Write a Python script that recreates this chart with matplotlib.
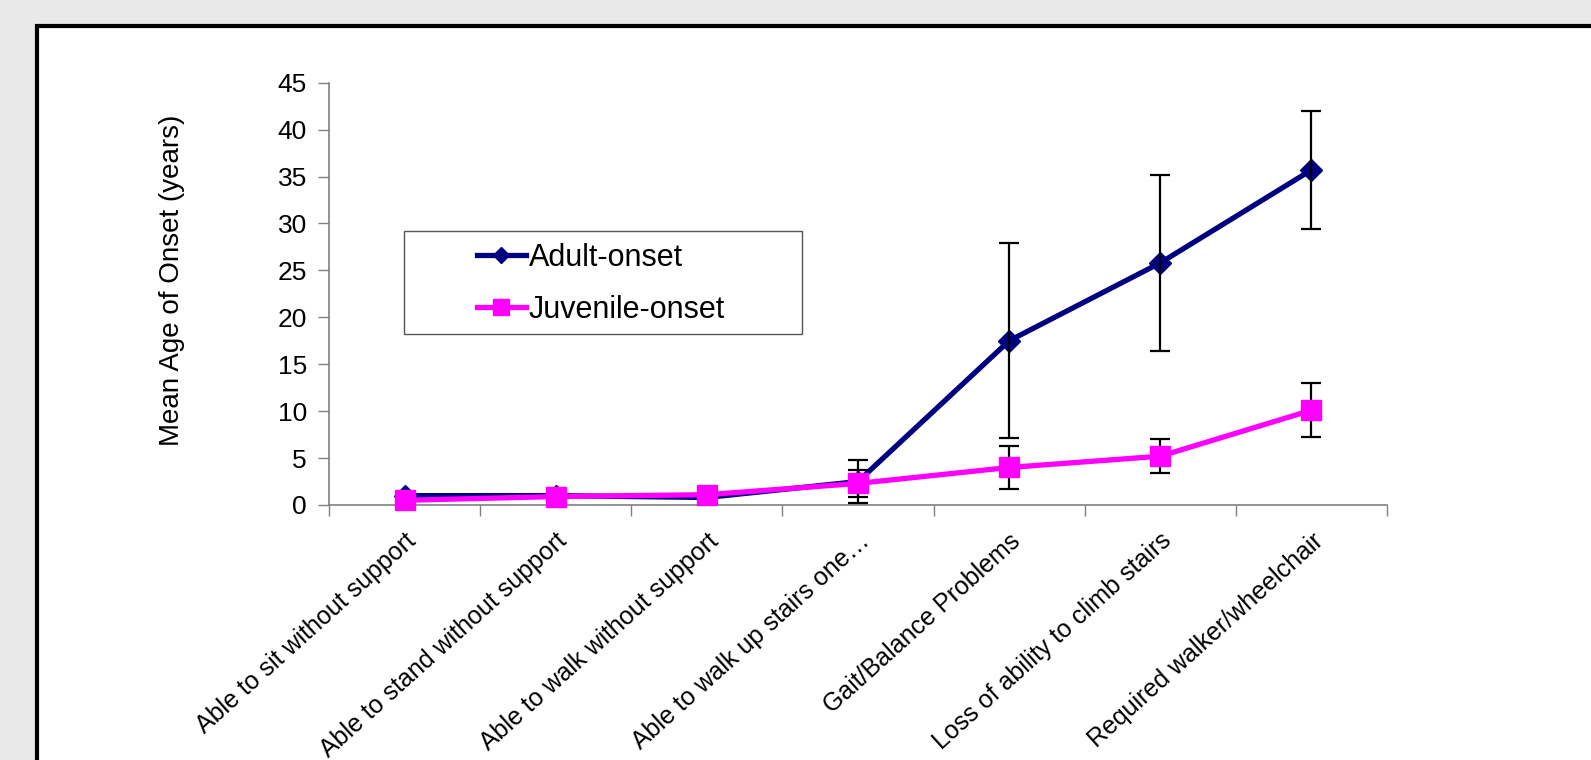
import matplotlib
matplotlib.use("Agg")
import matplotlib.pyplot as plt
from matplotlib.patches import Rectangle
from matplotlib.lines import Line2D

plt.rcParams['font.family'] = ['Liberation Sans', 'DejaVu Sans']

# milestones on the x axis
categories = [
    "Able to sit without support",
    "Able to stand without support",
    "Able to walk without support",
    "Able to walk up stairs one\u2026",
    "Gait/Balance Problems",
    "Loss of ability to climb stairs",
    "Required walker/wheelchair",
]

# mean age of onset (years)
adult_mean = [1.0, 1.0, 0.8, 2.5, 17.5, 25.8, 35.7]
adult_err = [0.0, 0.0, 0.0, 2.3, 10.4, 9.4, 6.3]
juvenile_mean = [0.5, 0.9, 1.1, 2.3, 4.0, 5.2, 10.1]
juvenile_err = [0.0, 0.0, 0.0, 1.45, 2.3, 1.8, 2.9]

y_ticks = [0, 5, 10, 15, 20, 25, 30, 35, 40, 45]

W, H = 1591, 760
fig = plt.figure(figsize=(W / 100, H / 100), dpi=100)
fig.patch.set_facecolor('#e9e9e9')

# white panel with a heavy black frame, running off the right and bottom
fig.add_artist(Rectangle((37 / W, -0.2), 1.2, 1.2 - 26 / H, transform=fig.transFigure,
                         facecolor='white', edgecolor='black', linewidth=3.0, zorder=0))

ax = fig.add_axes([329 / W, 1 - 505 / H, (1387 - 329) / W, (505 - 82.7) / H])
ax.set_facecolor('none')

x = list(range(len(categories)))

ax.errorbar(x, adult_mean, yerr=adult_err, fmt='none', ecolor='black',
            elinewidth=1.6, capsize=7, capthick=1.6, zorder=3)
ax.plot(x, adult_mean, color='#000080', linewidth=3.8, marker='D', markersize=11,
        zorder=2)
ax.errorbar(x, juvenile_mean, yerr=juvenile_err, fmt='none', ecolor='black',
            elinewidth=1.6, capsize=7, capthick=1.6, zorder=3.5)
ax.plot(x, juvenile_mean, color='#FF00FF', linewidth=3.8, marker='s', markersize=14,
        zorder=4, clip_on=False)

ax.set_xlim(-0.5, len(categories) - 0.5)
ax.set_ylim(0, 45)
ax.set_yticks(y_ticks)
ax.tick_params(axis='y', direction='out', length=8, width=1, color='#808080',
               labelsize=19, pad=8)

# ticks at category boundaries, labels centred between them
ax.set_xticks([i - 0.5 for i in range(len(categories) + 1)])
ax.set_xticklabels([])
ax.tick_params(axis='x', direction='out', length=8, width=1, color='#808080')
ax.set_xticks(x, minor=True)
ax.set_xticklabels(categories, minor=True, rotation=42, ha='right', va='top',
                   rotation_mode='anchor', fontsize=18)
ax.tick_params(axis='x', which='minor', length=0, pad=17)

for side in ('top', 'right'):
    ax.spines[side].set_visible(False)
for side in ('left', 'bottom'):
    ax.spines[side].set_color('#808080')
    ax.spines[side].set_linewidth(1.2)

fig.text(172 / W, 1 - 280 / H, 'Mean Age of Onset (years)', rotation=90,
         ha='center', va='center', fontsize=20)

# legend box drawn like the spreadsheet one
fig.add_artist(Rectangle((404 / W, 1 - 334 / H), (802 - 404) / W, (334 - 231) / H,
                         transform=fig.transFigure, facecolor='white',
                         edgecolor='#555555', linewidth=1.0, zorder=4.5))
handles = [
    Line2D([], [], color='#000080', linewidth=3.8, marker='D', markersize=8),
    Line2D([], [], color='#FF00FF', linewidth=3.8, marker='s', markersize=12),
]
leg = fig.legend(handles, ['Adult-onset', 'Juvenile-onset'], loc='upper left',
                 bbox_to_anchor=(477 / W, 1 - 243 / H), bbox_transform=fig.transFigure,
                 fontsize=22, frameon=False, borderaxespad=0, borderpad=0,
                 handlelength=1.6, handletextpad=0.1, labelspacing=0.72)
leg.set_zorder(5)

fig.savefig('out.png', dpi=100, facecolor=fig.get_facecolor())
